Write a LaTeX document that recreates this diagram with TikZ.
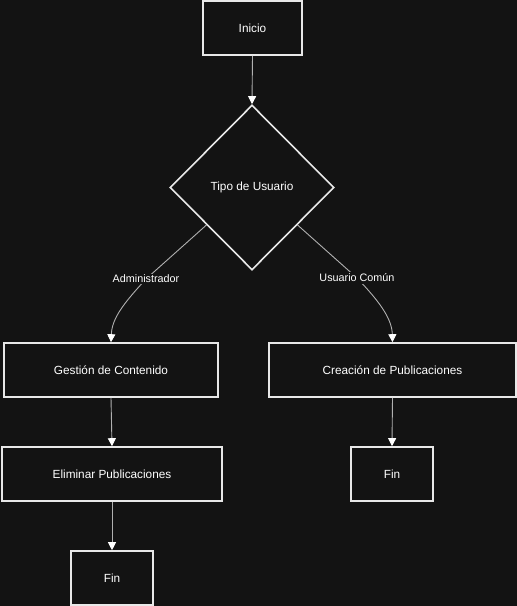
\documentclass[tikz,border=0pt]{standalone}
\usepackage{fontspec}
\setmainfont{Liberation Sans}
\usetikzlibrary{shapes.geometric,arrows.meta,calc}
\definecolor{bgc}{HTML}{131313}
\definecolor{edgec}{HTML}{E8E8E8}
\definecolor{linec}{HTML}{B0B0B0}
\tikzset{
  box/.style={draw=edgec, line width=1.6pt, fill=bgc, text=white, inner sep=0pt, font=\fontsize{11.8}{14}\selectfont},
  dia/.style={draw=edgec, line width=1.6pt, fill=bgc, text=white, diamond, inner sep=0pt, minimum width=164pt, minimum height=165pt, font=\fontsize{11.8}{14}\selectfont},
  conn/.style={draw=linec, line width=0.9pt, -{Triangle[width=8pt,length=8pt,fill=white,color=white]}},
  lbl/.style={fill=bgc, text=white, inner sep=1.5pt, font=\fontsize{10.8}{13}\selectfont}
}
\begin{document}
\begin{tikzpicture}[x=1pt,y=-1pt]
\fill[bgc] (0,0) rectangle (517,606);
\useasboundingbox (0,0) rectangle (517,606);
\node[box, minimum width=99pt, minimum height=54pt] (ini) at (252.5,28) {Inicio};
\node[dia] (tipo) at (252,187.5) {Tipo de Usuario};
\node[box, minimum width=214pt, minimum height=54pt] (gest) at (111,370) {Gestión de Contenido};
\node[box, minimum width=247pt, minimum height=54pt] (crea) at (392.5,370) {Creación de Publicaciones};
\node[box, minimum width=220pt, minimum height=54pt] (elim) at (112,474) {Eliminar Publicaciones};
\node[box, minimum width=82pt, minimum height=54pt] (fin1) at (392,474) {Fin};
\node[box, minimum width=82pt, minimum height=54pt] (fin2) at (112,578) {Fin};
\coordinate (sl) at ($(tipo.west)!0.45!(tipo.south)$);
\coordinate (sr) at ($(tipo.east)!0.45!(tipo.south)$);
\draw[conn] (ini.south) -- (tipo.north);
\draw[conn] (sl) -- (146,279) node[lbl] {Administrador} .. controls (124,303) and (112,318) .. (gest.north);
\draw[conn] (sr) -- (357,278) node[lbl] {Usuario Común} .. controls (378,300) and (392,318) .. (crea.north);
\draw[conn] (gest.south) -- (elim.north);
\draw[conn] (elim.south) -- (fin2.north);
\draw[conn] (crea.south) -- (fin1.north);
\end{tikzpicture}
\end{document}
